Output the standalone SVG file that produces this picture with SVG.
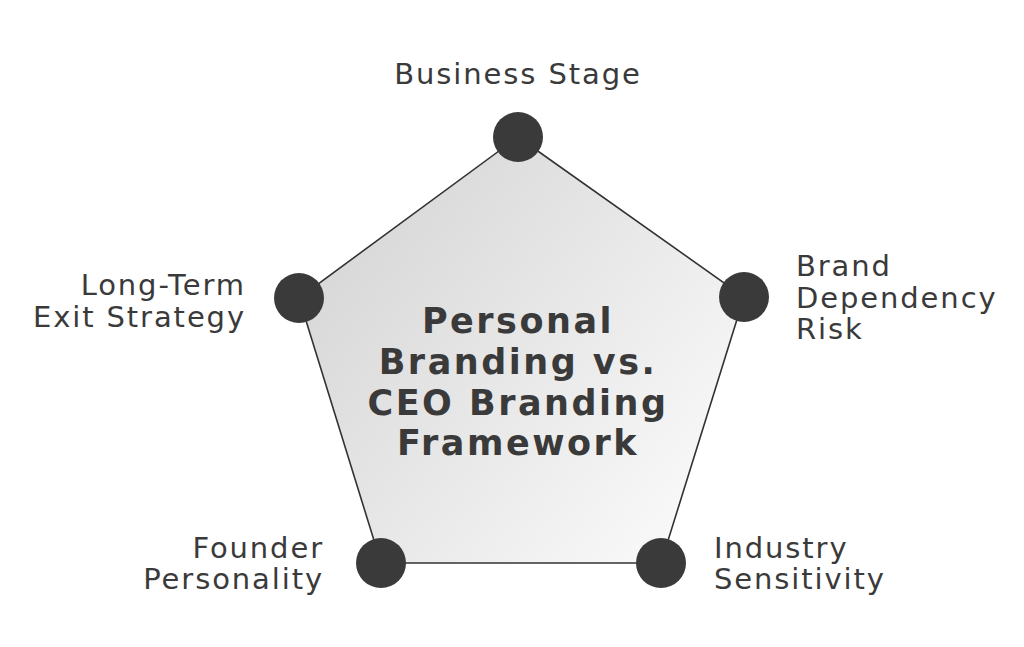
<svg xmlns="http://www.w3.org/2000/svg" width="1024" height="647" viewBox="0 0 1024 647">
<style>
.lbl{font-family:"DejaVu Sans",sans-serif;font-size:29px;letter-spacing:1.9px;fill:#3a3a3a}
.ttl{font-family:"DejaVu Sans",sans-serif;font-size:35px;letter-spacing:2.5px;font-weight:700;fill:#3a3a3a;text-anchor:middle}
.dot{fill:#3a3a3a}
</style>
<defs>
<linearGradient id="g" x1="300" y1="250" x2="700" y2="560" gradientUnits="userSpaceOnUse">
<stop offset="0" stop-color="#d6d6d6"/>
<stop offset="1" stop-color="#fbfbfb"/>
</linearGradient>
</defs>
<rect width="1024" height="647" fill="#ffffff"/>
<g id="connectors">
<polygon points="518,137 744,297 661,563 381,563 299,298" fill="url(#g)" stroke="#333" stroke-width="1.6"/>
</g>
<g id="center">
<text class="ttl" x="518" y="333">Personal</text>
<text class="ttl" x="518" y="374">Branding vs.</text>
<text class="ttl" x="518" y="415">CEO Branding</text>
<text class="ttl" x="518" y="455">Framework</text>
</g>
<g id="business-stage">
<circle class="dot" cx="518" cy="137" r="25"/>
<text class="lbl" x="518" y="84" text-anchor="middle">Business Stage</text>
</g>
<g id="brand-dependency">
<circle class="dot" cx="744" cy="297" r="25"/>
<text class="lbl" x="796" y="276">Brand</text>
<text class="lbl" x="796" y="308">Dependency</text>
<text class="lbl" x="796" y="339">Risk</text>
</g>
<g id="industry-sensitivity">
<circle class="dot" cx="661" cy="563" r="25"/>
<text class="lbl" x="714" y="558">Industry</text>
<text class="lbl" x="714" y="589">Sensitivity</text>
</g>
<g id="founder-personality">
<circle class="dot" cx="381" cy="563" r="25"/>
<text class="lbl" x="324" y="558" text-anchor="end">Founder</text>
<text class="lbl" x="324" y="589" text-anchor="end">Personality</text>
</g>
<g id="exit-strategy">
<circle class="dot" cx="299" cy="298" r="25"/>
<text class="lbl" x="246" y="295" text-anchor="end">Long-Term</text>
<text class="lbl" x="246" y="327" text-anchor="end">Exit Strategy</text>
</g>
</svg>
